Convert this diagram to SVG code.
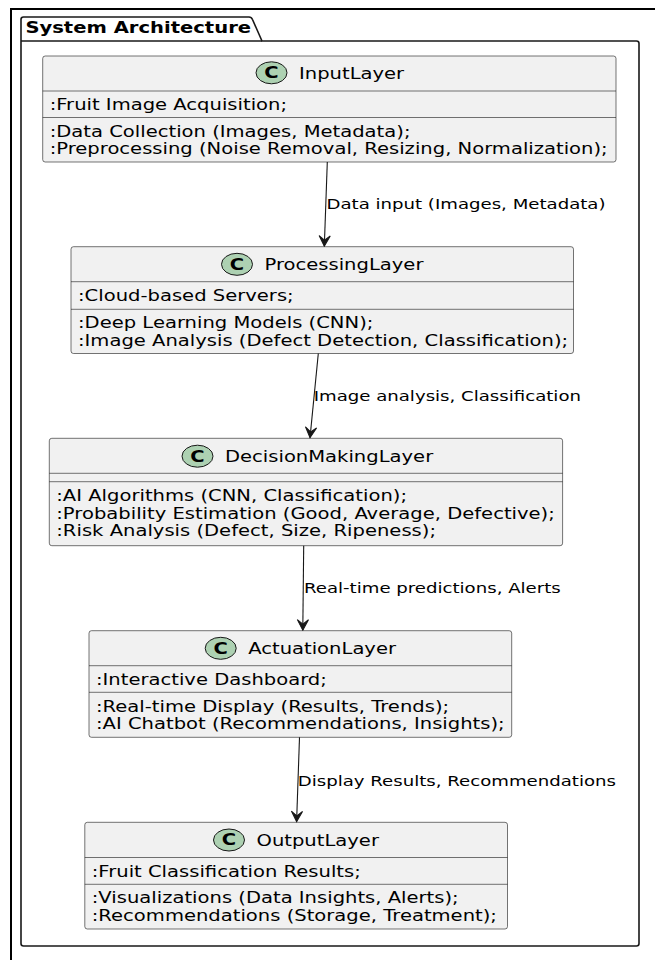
<svg xmlns="http://www.w3.org/2000/svg" width="655" height="960" viewBox="0 0 655 960">
  <style>
    .box { fill: #F1F1F1; stroke: #181818; stroke-width: 0.6; }
    .sep { stroke: #181818; stroke-width: 0.6; fill: none; }
    .spot { fill: #ADD1B2; stroke: #181818; stroke-width: 1; }
    .t { font-family: "DejaVu Sans", "Liberation Sans", sans-serif; font-size: 15px; fill: #000; }
    .c { font-family: "DejaVu Sans", "Liberation Sans", sans-serif; font-size: 15px; font-weight: bold; fill: #000; text-anchor: middle; }
    .lbl { font-family: "DejaVu Sans", "Liberation Sans", sans-serif; font-size: 13.9px; fill: #000; }
    .ttl { font-family: "DejaVu Sans", "Liberation Sans", sans-serif; font-size: 15px; font-weight: bold; fill: #000; }
    .edge { stroke: #181818; stroke-width: 1.1; fill: none; }
  </style>
  <defs>
    <marker id="head" viewBox="-12 -7 13 14" markerWidth="13" markerHeight="14" refX="0" refY="0" orient="auto" markerUnits="userSpaceOnUse">
      <path d="M0,0 L-10.5,-5.6 L-6,0 L-10.5,5.6 Z" fill="#181818" stroke="#181818" stroke-width="1"/>
    </marker>
  </defs>

  <rect width="655" height="960" fill="#FFFFFF"/>

  <!-- outer frame edges -->
  <path d="M11,960 L11,9 L655,9" fill="none" stroke="#000" stroke-width="2"/>

  <!-- package -->
  <g id="pkg-system-architecture">
    <path d="M21,943.5 L21,19.5 Q21,17 23.5,17 L249,17 Q251.5,17 252.5,19.5 L262,41 L636.5,41 Q639,41 639,43.5 L639,943.5 Q639,946 636.5,946 L23.5,946 Q21,946 21,943.5 Z" fill="none" stroke="#181818" stroke-width="1.6"/>
    <path d="M21,41 L262,41" fill="none" stroke="#181818" stroke-width="1.6"/>
    <g transform="scale(1.305 1)">
      <text class="ttl" x="19.46" y="33.3">System Architecture</text>
    </g>
  </g>

  <!-- InputLayer -->
  <g id="InputLayer">
    <rect class="box" x="42.7" y="56" width="573.3" height="106" rx="2.5"/>
    <line class="sep" x1="42.7" y1="91" x2="616" y2="91"/>
    <line class="sep" x1="42.7" y1="117.5" x2="616" y2="117.5"/>
    <ellipse class="spot" cx="271.5" cy="72.8" rx="15.5" ry="11"/>
    <g transform="scale(1.305 1)">
      <text class="c" x="208.05" y="78.2">C</text>
      <text class="t" x="229.12" y="79">InputLayer</text>
      <text class="t" x="38.08" y="110">:Fruit Image Acquisition;</text>
      <text class="t" x="38.08" y="136.7">:Data Collection (Images, Metadata);</text>
      <text class="t" x="38.08" y="154.3">:Preprocessing (Noise Removal, Resizing, Normalization);</text>
    </g>
  </g>

  <!-- ProcessingLayer -->
  <g id="ProcessingLayer">
    <rect class="box" x="71" y="246.7" width="502.5" height="106.8" rx="2.5"/>
    <line class="sep" x1="71" y1="281.7" x2="573.5" y2="281.7"/>
    <line class="sep" x1="71" y1="309.3" x2="573.5" y2="309.3"/>
    <ellipse class="spot" cx="237" cy="264.3" rx="15.5" ry="11"/>
    <g transform="scale(1.305 1)">
      <text class="c" x="181.61" y="269.7">C</text>
      <text class="t" x="202.68" y="270">ProcessingLayer</text>
      <text class="t" x="59.77" y="301">:Cloud-based Servers;</text>
      <text class="t" x="59.77" y="328.5">:Deep Learning Models (CNN);</text>
      <text class="t" x="59.77" y="346.1">:Image Analysis (Defect Detection, Classification);</text>
    </g>
  </g>

  <!-- DecisionMakingLayer -->
  <g id="DecisionMakingLayer">
    <rect class="box" x="49.3" y="438.3" width="513.3" height="107.4" rx="2.5"/>
    <line class="sep" x1="49.3" y1="473.3" x2="562.6" y2="473.3"/>
    <line class="sep" x1="49.3" y1="481.7" x2="562.6" y2="481.7"/>
    <ellipse class="spot" cx="197.5" cy="456.2" rx="15.5" ry="11"/>
    <g transform="scale(1.305 1)">
      <text class="c" x="151.34" y="461.6">C</text>
      <text class="t" x="172.41" y="462.3">DecisionMakingLayer</text>
      <text class="t" x="43.14" y="501">:AI Algorithms (CNN, Classification);</text>
      <text class="t" x="43.14" y="518.6">:Probability Estimation (Good, Average, Defective);</text>
      <text class="t" x="43.14" y="536.2">:Risk Analysis (Defect, Size, Ripeness);</text>
    </g>
  </g>

  <!-- ActuationLayer -->
  <g id="ActuationLayer">
    <rect class="box" x="89" y="630.7" width="422.7" height="106.6" rx="2.5"/>
    <line class="sep" x1="89" y1="665.7" x2="511.7" y2="665.7"/>
    <line class="sep" x1="89" y1="692.3" x2="511.7" y2="692.3"/>
    <ellipse class="spot" cx="220.7" cy="648.3" rx="15.5" ry="11"/>
    <g transform="scale(1.305 1)">
      <text class="c" x="169.12" y="653.7">C</text>
      <text class="t" x="190.19" y="654.3">ActuationLayer</text>
      <text class="t" x="73.56" y="685">:Interactive Dashboard;</text>
      <text class="t" x="73.56" y="711.6">:Real-time Display (Results, Trends);</text>
      <text class="t" x="73.56" y="729.2">:AI Chatbot (Recommendations, Insights);</text>
    </g>
  </g>

  <!-- OutputLayer -->
  <g id="OutputLayer">
    <rect class="box" x="84.8" y="822.3" width="422.7" height="106.7" rx="2.5"/>
    <line class="sep" x1="84.8" y1="857.5" x2="507.5" y2="857.5"/>
    <line class="sep" x1="84.8" y1="884.3" x2="507.5" y2="884.3"/>
    <ellipse class="spot" cx="229" cy="840" rx="15.5" ry="11"/>
    <g transform="scale(1.305 1)">
      <text class="c" x="175.48" y="845.4">C</text>
      <text class="t" x="196.55" y="845.7">OutputLayer</text>
      <text class="t" x="70.34" y="876.7">:Fruit Classification Results;</text>
      <text class="t" x="70.34" y="903.3">:Visualizations (Data Insights, Alerts);</text>
      <text class="t" x="70.34" y="920.9">:Recommendations (Storage, Treatment);</text>
    </g>
  </g>

  <!-- connectors -->
  <g id="connectors">
    <path class="edge" d="M327.3,162 L324.3,246.2" marker-end="url(#head)"/>
    <path class="edge" d="M318.3,353.5 L310,437.8" marker-end="url(#head)"/>
    <path class="edge" d="M303.7,545.7 L302.8,630.2" marker-end="url(#head)"/>
    <path class="edge" d="M299.5,737.3 L296.6,821.8" marker-end="url(#head)"/>
    <g transform="scale(1.305 1)">
      <text class="lbl" x="250.19" y="209.5">Data input (Images, Metadata)</text>
      <text class="lbl" x="240.38" y="401.5">Image analysis, Classification</text>
      <text class="lbl" x="232.95" y="593.3">Real-time predictions, Alerts</text>
      <text class="lbl" x="228.20" y="785.7">Display Results, Recommendations</text>
    </g>
  </g>
</svg>
